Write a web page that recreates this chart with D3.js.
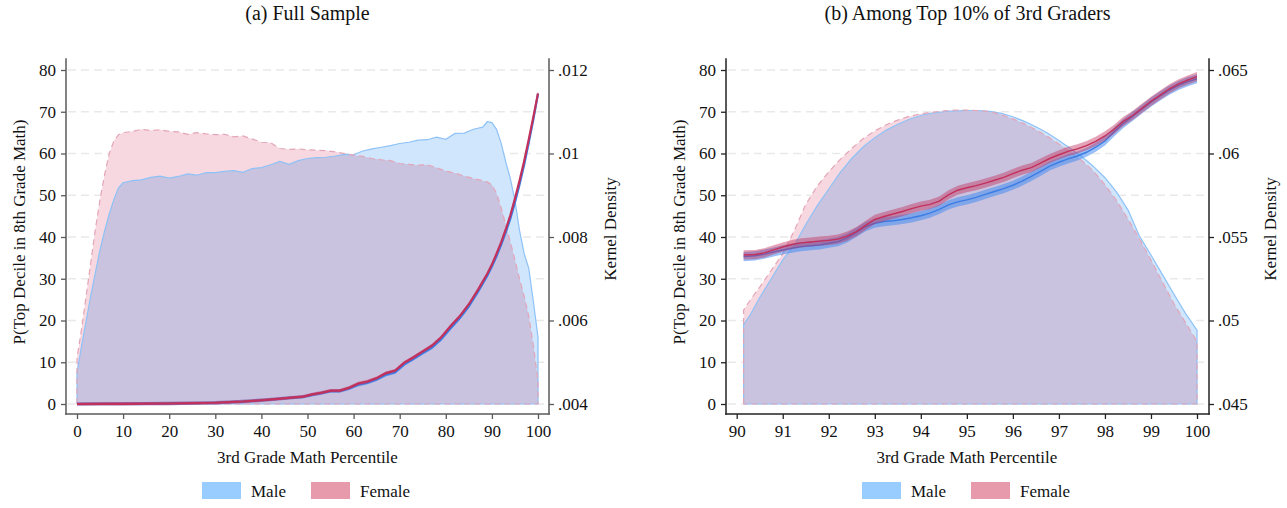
<!DOCTYPE html>
<html>
<head>
<meta charset="utf-8">
<script src="https://cdn.jsdelivr.net/npm/d3@7"></script>
<style>
  html, body { margin: 0; padding: 0; background: #fff; }
  svg { display: block; font-family: "Liberation Serif", "DejaVu Serif", serif; }
</style>
</head>
<body>
<svg id="chart" width="1287" height="508"></svg>
<script>
// ---------- Panel (a): full sample ----------
const fullDensityX = [0,1,2,3,4,5,6,7,8,9,10,12,14,16,18,20,22,24,26,28,30,32,34,36,38,40,42,44,46,48,50,52,54,56,58,60,62,64,66,68,70,72,74,76,78,80,82,84,86,88,89,90,91,92,93,94,95,96,97,98,99,100];
const fullDensityMale = [0.00475,0.0054,0.0060,0.0066,0.00715,0.0077,0.00815,0.00855,0.0089,0.00918,0.0093,0.00935,0.00937,0.00943,0.00946,0.00941,0.00945,0.00951,0.00948,0.00954,0.00954,0.00957,0.00959,0.00955,0.00964,0.00966,0.00973,0.00981,0.00974,0.00983,0.00988,0.0099,0.00991,0.00994,0.00998,0.00997,0.01006,0.01011,0.01015,0.01019,0.01024,0.01027,0.01032,0.01033,0.01039,0.01034,0.01048,0.01049,0.01058,0.01063,0.01076,0.01074,0.01058,0.01025,0.0098,0.0094,0.00888,0.00815,0.0076,0.00725,0.00645,0.0056];
const fullDensityFemale = [0.0051,0.0058,0.0066,0.0074,0.0082,0.0089,0.0095,0.0100,0.0103,0.01045,0.0105,0.01053,0.01058,0.01055,0.01057,0.01053,0.01052,0.01046,0.0105,0.01047,0.01045,0.01046,0.0104,0.01042,0.01035,0.01027,0.01026,0.01012,0.0101,0.01011,0.01009,0.01008,0.01007,0.01004,0.0100,0.00996,0.00993,0.00988,0.00985,0.00983,0.00976,0.00974,0.00972,0.00973,0.00966,0.00958,0.00953,0.00946,0.0094,0.00935,0.00932,0.00925,0.00905,0.0087,0.0083,0.00788,0.00745,0.0070,0.00658,0.0061,0.0054,0.00455];

const fullLineX = [0,5,10,15,20,25,30,33,36,40,43,46,49,51,53,55,57,59,61,63,65,67,69,71,73,75,77,79,81,83,85,87,88,89,90,91,92,93,94,95,96,97,98,99,100];
const fullLineFemale = [0,0.02,0.05,0.08,0.12,0.2,0.3,0.45,0.6,0.9,1.15,1.45,1.75,2.3,2.7,3.2,3.2,3.9,4.9,5.4,6.2,7.4,8.0,9.9,11.2,12.6,14.0,16.0,18.6,21.0,23.9,27.4,29.3,31.2,33.4,36.0,38.7,41.8,45.2,49.2,53.5,58.2,63.4,68.8,74.4];
const fullLineMale = [0,0.02,0.05,0.08,0.12,0.2,0.3,0.45,0.6,0.9,1.15,1.45,1.7,2.2,2.6,3.1,3.1,3.7,4.6,5.1,5.9,7.0,7.6,9.5,10.8,12.2,13.5,15.5,18.1,20.5,23.4,26.9,28.8,30.7,32.9,35.4,38.1,41.1,44.4,48.3,52.6,57.3,62.6,68.2,74.3];
const fullCI = 0.4;

// ---------- Panel (b): top 10% of 3rd graders ----------
const topDensityX = [90.15,90.3,90.5,90.75,91,91.25,91.5,91.75,92,92.25,92.5,92.75,93,93.25,93.5,93.75,94,94.25,94.5,94.75,95,95.25,95.5,95.75,96,96.25,96.5,96.75,97,97.25,97.5,97.75,98,98.25,98.5,98.75,99,99.25,99.5,99.75,100];
const topDensityMale = [0.04975,0.050375,0.051375,0.0525,0.053625,0.0545,0.05575,0.056875,0.057875,0.058875,0.0597,0.0604,0.06095,0.0614,0.06175,0.06205,0.062275,0.062425,0.0625,0.06255,0.062575,0.062575,0.062525,0.0624,0.0622,0.061925,0.0616,0.061225,0.060775,0.0603,0.0598,0.059225,0.05855,0.0577,0.056625,0.05505,0.053925,0.05275,0.051575,0.050425,0.049425];
const topDensityFemale = [0.050625,0.05125,0.052,0.053,0.054,0.055375,0.05695,0.05805,0.0589,0.05965,0.0603,0.0609,0.06135,0.061725,0.062,0.062225,0.062375,0.062475,0.06255,0.0626,0.0626,0.062575,0.0625,0.062325,0.062075,0.061775,0.061425,0.061025,0.060575,0.0601,0.059575,0.05895,0.058125,0.0572,0.056075,0.0549,0.053625,0.0523,0.051,0.049875,0.04875];

const topLineX = [90.15,90.4,90.6,90.8,91,91.2,91.4,91.6,91.8,92,92.2,92.4,92.6,92.8,93,93.2,93.4,93.6,93.8,94,94.2,94.4,94.6,94.8,95,95.2,95.4,95.6,95.8,96,96.2,96.4,96.6,96.8,97,97.2,97.4,97.6,97.8,98,98.2,98.4,98.6,98.8,99,99.2,99.4,99.6,99.8,100];
const topLineFemale = [35.7,35.8,36.2,36.9,37.6,38.2,38.6,38.8,39,39.2,39.5,40.2,41.3,42.8,44.2,44.9,45.5,46.1,46.8,47.4,47.8,48.6,50.1,51.2,51.8,52.3,52.9,53.6,54.3,55.2,56,56.6,57.7,58.8,59.7,60.5,61.1,61.9,62.9,64.2,65.8,67.7,69.1,70.8,72.5,74,75.5,76.7,77.6,78.4];
const topLineMale = [35.3,35.5,35.9,36.4,36.9,37.3,37.7,37.9,38.1,38.5,38.9,39.8,41.1,42.5,43.3,43.7,43.9,44.2,44.6,45.1,45.7,46.6,47.7,48.4,48.9,49.5,50.2,50.9,51.6,52.4,53.4,54.5,55.7,57,57.9,58.7,59.4,60.3,61.5,63,65.2,67.2,68.9,70.6,72.3,73.8,75.2,76.3,77.2,77.9];
const topCI = 1.1;

// ---------- Shared axis content ----------
const probTicks = [0,10,20,30,40,50,60,70,80];
const fullPctTicks = [0,10,20,30,40,50,60,70,80,90,100];
const topPctTicks = [90,91,92,93,94,95,96,97,98,99,100];
const fullDensityTicks = [0.004,0.006,0.008,0.010,0.012];
const topDensityTicks = [0.045,0.050,0.055,0.060,0.065];
const legendLabels = ["Male", "Female"];

const panels = [
  {
    title: "(a) Full Sample",
    densityX: fullDensityX, densityMale: fullDensityMale, densityFemale: fullDensityFemale,
    lineX: fullLineX, lineMale: fullLineMale, lineFemale: fullLineFemale, ci: fullCI,
    xDomain: [0, 100], xRange: [77, 538], plotX: [66, 549], xTicks: fullPctTicks,
    densityDomain: [0.004, 0.012], densityTicks: fullDensityTicks,
    axisColor: "#5a5a5a", lineWidth: 2.2, legendX: 202, rightTitleX: 611
  },
  {
    title: "(b) Among Top 10% of 3rd Graders",
    densityX: topDensityX, densityMale: topDensityMale, densityFemale: topDensityFemale,
    lineX: topLineX, lineMale: topLineMale, lineFemale: topLineFemale, ci: topCI,
    xDomain: [90, 100], xRange: [736.7, 1197], plotX: [726, 1209], xTicks: topPctTicks,
    densityDomain: [0.045, 0.065], densityTicks: topDensityTicks,
    axisColor: "#222", lineWidth: 1.4, legendX: 862, rightTitleX: 1271
  }
];

const colors = {
  maleFill: "#d0e6fd", femaleFill: "#f7d8e1",
  maleEdge: "#8ec2f6", femaleEdge: "#e3a6b8",
  maleLine: "#3b7de4", femaleLine: "#c2305c",
  maleBand: "rgba(70,140,240,0.55)", femaleBand: "rgba(195,50,95,0.45)",
  maleKey: "#99ccff", femaleKey: "#e89aad",
  grid: "#e9e9e9", text: "#111"
};
const serif = '"Liberation Serif", "DejaVu Serif", serif';

const svg = d3.select("#chart");
const plotTop = 59, plotBottom = 414;
const y = d3.scaleLinear().domain([0, 80]).range([404, 70]);
const fmtDensity = d => d3.format(".3f")(d).replace(/^0/, "").replace(/0+$/, "");

panels.forEach(p => {
  const g = svg.append("g");
  const x = d3.scaleLinear().domain(p.xDomain).range(p.xRange);
  const yd = d3.scaleLinear().domain(p.densityDomain).range([404, 70]);
  const xMid = (p.xRange[0] + p.xRange[1]) / 2;

  // dashed horizontal gridlines
  g.append("g").selectAll("line").data(probTicks).join("line")
    .attr("x1", p.plotX[0] + 2).attr("x2", p.plotX[1] - 2)
    .attr("y1", d => y(d)).attr("y2", d => y(d))
    .attr("stroke", colors.grid).attr("stroke-width", 1.3)
    .attr("stroke-dasharray", "8,5");

  // kernel density areas (blended where they overlap)
  const dens = g.append("g").style("isolation", "isolate");
  const areaD = vals => d3.area()
    .x((d, i) => x(p.densityX[i]))
    .y0(yd(p.densityDomain[0]))
    .y1((d, i) => yd(vals[i]));
  const outline = vals => {
    const pts = vals.map((v, i) => [x(p.densityX[i]), yd(v)]);
    const base = yd(p.densityDomain[0]);
    return [[x(p.densityX[0]), base], ...pts, [x(p.densityX[p.densityX.length - 1]), base], [x(p.densityX[0]), base]];
  };
  dens.append("path").datum(p.densityMale)
    .attr("d", areaD(p.densityMale)).attr("fill", colors.maleFill);
  dens.append("path").datum(p.densityFemale)
    .attr("d", areaD(p.densityFemale)).attr("fill", colors.femaleFill)
    .style("mix-blend-mode", "multiply");
  dens.append("path").attr("d", d3.line()(outline(p.densityMale)))
    .attr("fill", "none").attr("stroke", colors.maleEdge).attr("stroke-width", 1.2);
  dens.append("path").attr("d", d3.line()(outline(p.densityFemale)))
    .attr("fill", "none").attr("stroke", colors.femaleEdge).attr("stroke-width", 1.2)
    .attr("stroke-dasharray", "6,4");

  // probability lines with confidence bands
  const band = vals => d3.area()
    .x((d, i) => x(p.lineX[i]))
    .y0((d, i) => y(vals[i] - p.ci))
    .y1((d, i) => y(vals[i] + p.ci))(vals);
  const line = vals => d3.line()
    .x((d, i) => x(p.lineX[i]))
    .y(d => y(d))(vals);
  g.append("path").attr("d", band(p.lineMale)).attr("fill", colors.maleBand);
  g.append("path").attr("d", line(p.lineMale)).attr("fill", "none")
    .attr("stroke", colors.maleLine).attr("stroke-width", p.lineWidth);
  g.append("path").attr("d", band(p.lineFemale)).attr("fill", colors.femaleBand);
  g.append("path").attr("d", line(p.lineFemale)).attr("fill", "none")
    .attr("stroke", colors.femaleLine).attr("stroke-width", p.lineWidth);

  // axes
  const styleAxis = sel => {
    sel.select(".domain").remove();
    sel.selectAll(".tick line").attr("stroke", p.axisColor).attr("stroke-width", 1.3);
    sel.selectAll(".tick text").attr("fill", colors.text)
      .style("font-size", "17px").style("font-family", serif);
  };
  g.append("g").attr("transform", `translate(${p.plotX[0]},0)`)
    .call(d3.axisLeft(y).tickValues(probTicks).tickSize(5).tickPadding(5).tickFormat(d3.format("d")))
    .call(styleAxis);
  g.append("g").attr("transform", `translate(${p.plotX[1]},0)`)
    .call(d3.axisRight(yd).tickValues(p.densityTicks).tickSize(5).tickPadding(4).tickFormat(fmtDensity))
    .call(styleAxis);
  g.append("g").attr("transform", `translate(0,${plotBottom})`)
    .call(d3.axisBottom(x).tickValues(p.xTicks).tickSize(5).tickPadding(6).tickFormat(d3.format("d")))
    .call(styleAxis);

  // axis lines
  const axisLines = [
    [p.plotX[0], plotTop, p.plotX[0], plotBottom],
    [p.plotX[1], plotTop, p.plotX[1], plotBottom],
    [p.plotX[0], plotBottom, p.plotX[1], plotBottom]
  ];
  g.append("g").selectAll("line").data(axisLines).join("line")
    .attr("x1", d => d[0]).attr("y1", d => d[1]).attr("x2", d => d[2]).attr("y2", d => d[3])
    .attr("stroke", p.axisColor).attr("stroke-width", 1.5).attr("stroke-linecap", "square");

  // titles
  const label = (sel, size) => sel.attr("text-anchor", "middle").attr("fill", colors.text)
    .style("font-family", serif).style("font-size", size);
  g.append("text").attr("x", (p.plotX[0] + p.plotX[1]) / 2).attr("y", 20)
    .call(label, "20px").text(p.title);
  g.append("text").attr("x", xMid).attr("y", 463)
    .call(label, "17px").text("3rd Grade Math Percentile");
  g.append("text").attr("transform", `translate(${p.plotX[0] - 41},232) rotate(-90)`)
    .call(label, "17px").text("P(Top Decile in 8th Grade Math)");
  g.append("text").attr("transform", `translate(${p.rightTitleX + 5},229) rotate(-90)`)
    .call(label, "17px").text("Kernel Density");

  // legend
  const keyColors = [colors.maleKey, colors.femaleKey];
  const leg = g.append("g").attr("transform", `translate(${p.legendX},482)`);
  legendLabels.forEach((lab, i) => {
    const item = leg.append("g").attr("transform", `translate(${i * 109},0)`);
    item.append("rect").attr("width", 39).attr("height", 17).attr("fill", keyColors[i]);
    item.append("text").attr("x", 49).attr("y", 15).attr("fill", colors.text)
      .style("font-family", serif).style("font-size", "17px").text(lab);
  });
});
</script>
</body>
</html>
